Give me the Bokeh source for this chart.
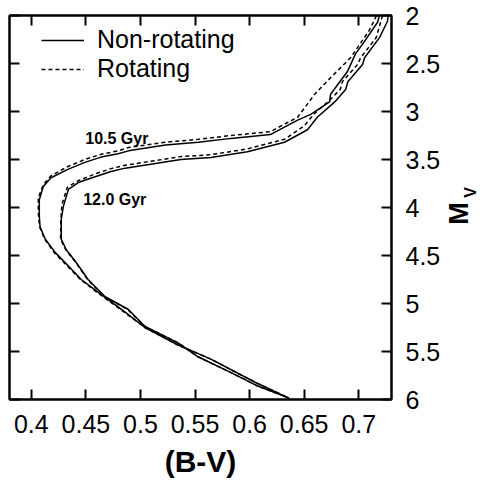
from bokeh.plotting import figure
from bokeh.models import Range1d, LinearAxis, FixedTicker, Legend, LegendItem, Label
from bokeh.layouts import row
from bokeh.embed import file_html
from bokeh.resources import INLINE
from bokeh.core.properties import value

# ---- data ----
x_ticks = [0.4, 0.45, 0.5, 0.55, 0.6, 0.65, 0.7]
x_tick_labels = ["0.4", "0.45", "0.5", "0.55", "0.6", "0.65", "0.7"]
y_ticks = [2, 2.5, 3, 3.5, 4, 4.5, 5, 5.5, 6]
y_tick_labels = ["2", "2.5", "3", "3.5", "4", "4.5", "5", "5.5", "6"]

# 10.5 Gyr, non-rotating
bv_105_nr = [0.719, 0.7172, 0.7053, 0.697, 0.6898, 0.6742, 0.6733, 0.656, 0.644, 0.619, 0.583, 0.553,
             0.523, 0.489, 0.4795, 0.464, 0.449, 0.434, 0.418, 0.411, 0.4073, 0.4073, 0.408, 0.4128,
             0.422, 0.434, 0.4457, 0.462, 0.486, 0.504, 0.534, 0.5645, 0.605, 0.635, 0.637]
mv_105_nr = [2.00, 2.07, 2.27, 2.40, 2.58, 2.82, 2.90, 3.03, 3.09, 3.24, 3.28, 3.32,
             3.35, 3.41, 3.44, 3.475, 3.53, 3.60, 3.69, 3.78, 3.92, 4.09, 4.20, 4.33,
             4.47, 4.61, 4.75, 4.89, 5.09, 5.25, 5.43, 5.58, 5.82, 5.98, 6.00]

# 10.5 Gyr, rotating
bv_105_r = [0.7163, 0.7099, 0.6925, 0.674, 0.6596, 0.644, 0.619, 0.583, 0.553, 0.5225, 0.489, 0.4795,
            0.464, 0.449, 0.434, 0.418, 0.411, 0.4064, 0.4064, 0.4075, 0.4122, 0.421, 0.433, 0.445,
            0.461, 0.485, 0.504, 0.534, 0.5645, 0.605, 0.635, 0.637]
mv_105_r = [2.00, 2.15, 2.44, 2.65, 2.82, 3.06, 3.21, 3.25, 3.29, 3.32, 3.375, 3.41,
            3.445, 3.50, 3.57, 3.67, 3.76, 3.90, 4.05, 4.20, 4.33, 4.47, 4.61, 4.75,
            4.89, 5.09, 5.25, 5.43, 5.58, 5.82, 5.98, 6.00]

# 12.0 Gyr, non-rotating
bv_120_nr = [0.727, 0.7263, 0.719, 0.7053, 0.7035, 0.690, 0.688, 0.678, 0.662, 0.653, 0.632, 0.598,
             0.5645, 0.537, 0.486, 0.473, 0.4585, 0.443, 0.434, 0.4293, 0.4274, 0.4274, 0.432, 0.441,
             0.452, 0.4676, 0.4887, 0.5042, 0.5344, 0.5527, 0.583, 0.6075, 0.635, 0.637]
mv_120_nr = [2.00, 2.06, 2.23, 2.44, 2.51, 2.69, 2.77, 2.90, 3.06, 3.19, 3.32, 3.42,
             3.48, 3.50, 3.59, 3.625, 3.68, 3.74, 3.81, 3.99, 4.125, 4.33, 4.44, 4.57,
             4.75, 4.93, 5.06, 5.24, 5.41, 5.555, 5.72, 5.86, 5.98, 6.00]

# 12.0 Gyr, rotating
bv_120_r = [0.7218, 0.716, 0.7017, 0.699, 0.685, 0.683, 0.674, 0.6596, 0.650, 0.632, 0.598, 0.5645,
            0.537, 0.486, 0.473, 0.4585, 0.443, 0.433, 0.428, 0.427, 0.4268, 0.4315, 0.4405,
            0.4515, 0.467, 0.488, 0.5042, 0.5344, 0.5527, 0.583, 0.6075, 0.635, 0.637]
mv_120_r = [2.00, 2.23, 2.44, 2.51, 2.69, 2.77, 2.875, 3.02, 3.15, 3.29, 3.39, 3.45,
            3.47, 3.56, 3.595, 3.65, 3.72, 3.79, 3.97, 4.125, 4.33, 4.44, 4.57,
            4.75, 4.93, 5.06, 5.24, 5.41, 5.555, 5.72, 5.86, 5.98, 6.00]

series_labels = ["Non-rotating", "Rotating"]
age_labels = ["10.5 Gyr", "12.0 Gyr"]
y_title = ["M", "V"]
x_title = "(B-V)"

FONT = "Liberation Sans"
TOTAL_H = 480

p = figure(width=443, height=TOTAL_H,
           x_range=Range1d(0.38, 0.73), y_range=Range1d(6, 2),
           output_backend="svg", toolbar_location=None,
           x_axis_location="below", y_axis_location="right",
           min_border_left=9, min_border_top=15, min_border_right=51, min_border_bottom=81)
p.xgrid.visible = False
p.ygrid.visible = False
p.outline_line_color = "black"
p.outline_line_width = 2
p.background_fill_color = "white"
p.border_fill_color = "white"


def style_axis(ax, ticks, labels, show_labels):
    ax.ticker = FixedTicker(ticks=ticks)
    if show_labels:
        ax.major_label_overrides = {t: l for t, l in zip(ticks, labels)}
        ax.major_label_text_font_size = "25px"
    else:
        ax.major_label_overrides = {t: "" for t in ticks}
        ax.major_label_text_font_size = "1px"
        ax.major_label_standoff = 0
    ax.major_tick_in = 10
    ax.major_tick_out = 0
    ax.minor_tick_in = 0
    ax.minor_tick_out = 0
    ax.major_tick_line_width = 2
    ax.major_tick_line_color = "black"
    ax.axis_line_width = 2
    ax.axis_line_color = "black"
    ax.major_label_text_font = FONT
    ax.major_label_text_color = "black"


style_axis(p.xaxis[0], x_ticks, x_tick_labels, True)
p.xaxis[0].major_label_standoff = 15
p.xaxis[0].axis_label = x_title
p.xaxis[0].axis_label_text_font = FONT
p.xaxis[0].axis_label_text_font_style = "bold"
p.xaxis[0].axis_label_text_font_size = "30px"
p.xaxis[0].axis_label_text_color = "black"
p.xaxis[0].axis_label_standoff = 9

style_axis(p.yaxis[0], y_ticks, y_tick_labels, True)
p.yaxis[0].major_label_standoff = 14

top_ax = LinearAxis()
style_axis(top_ax, x_ticks, x_tick_labels, False)
p.add_layout(top_ax, "above")
left_ax = LinearAxis()
style_axis(left_ax, y_ticks, y_tick_labels, False)
p.add_layout(left_ax, "left")

lw = 1.5
r1 = p.line(bv_105_nr, mv_105_nr, line_color="black", line_width=lw)
r2 = p.line(bv_105_r, mv_105_r, line_color="black", line_width=lw, line_dash="4 3")
p.line(bv_120_nr, mv_120_nr, line_color="black", line_width=lw)
p.line(bv_120_r, mv_120_r, line_color="black", line_width=lw, line_dash="4 3")

legend = Legend(items=[LegendItem(label=series_labels[0], renderers=[r1]),
                       LegendItem(label=series_labels[1], renderers=[r2])],
                location=(32, 316), padding=0, spacing=0, margin=0,
                glyph_width=43, glyph_height=20, label_standoff=13,
                label_text_font=FONT, label_text_font_size="25px", label_text_color="black",
                border_line_color=None, background_fill_alpha=0)
p.add_layout(legend)

p.add_layout(Label(x=0.4494, y=3.28, text=age_labels[0], text_font=FONT, text_font_style="bold",
                   text_font_size="16px", text_color="black", text_baseline="alphabetic"))
p.add_layout(Label(x=0.4475, y=3.92, text=age_labels[1], text_font=FONT, text_font_style="bold",
                   text_font_size="16px", text_color="black", text_baseline="alphabetic"))

# narrow side panel carrying the y-axis title M_V; its frame is aligned with the
# main frame by the row layout, so its y range is expressed in page pixels of that frame
p2 = figure(width=36, height=TOTAL_H, x_range=Range1d(0, 36), y_range=Range1d(400, 16),
            output_backend="svg", toolbar_location=None,
            x_axis_location=None, y_axis_location=None,
            min_border_left=0, min_border_right=0, min_border_top=0, min_border_bottom=0)
p2.xgrid.visible = False
p2.ygrid.visible = False
p2.outline_line_color = None
p2.background_fill_color = "white"
p2.border_fill_color = "white"
p2.text(x=[15.5], y=[214], text=[y_title[0]], angle=1.5708, text_font=value(FONT),
        text_font_style="bold", text_font_size="27px", text_color="black",
        text_align="center", text_baseline="middle")
p2.text(x=[26.5], y=[193], text=[y_title[1]], angle=1.5708, text_font=value(FONT),
        text_font_style="bold", text_font_size="16px", text_color="black",
        text_align="center", text_baseline="middle")

layout = row(p, p2)
open("out.html", "w").write(file_html(layout, INLINE))
